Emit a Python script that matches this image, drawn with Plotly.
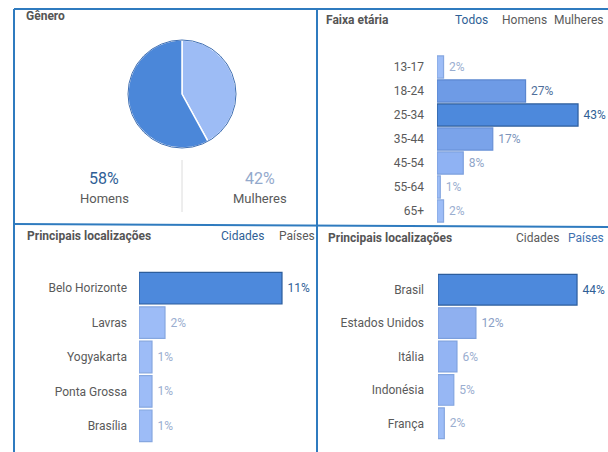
import plotly.graph_objects as go

W, H = 608, 452

# ---- data ----
gender_labels = ["Mulheres", "Homens"]
gender_values = [42, 58]

age_labels = ["13-17", "18-24", "25-34", "35-44", "45-54", "55-64", "65+"]
age_values = [2, 27, 43, 17, 8, 1, 2]

city_labels = ["Belo Horizonte", "Lavras", "Yogyakarta", "Ponta Grossa", "Brasília"]
city_values = [11, 2, 1, 1, 1]

country_labels = ["Brasil", "Estados Unidos", "Itália", "Indonésia", "França"]
country_values = [44, 12, 6, 5, 2]

# ---- styles ----
FONT = "Roboto, Arial, sans-serif"
GRAY = "#5a5a5a"
DARK = "#2f5f96"
BORDER = "#2f7bbf"

age_colors = ["#9dbdf7", "#6e9be6", "#4d89dc", "#7aa3ea", "#8fb2f3", "#9dbdf7", "#9dbdf7"]
age_line = ["#86a7e0", "#5a86cf", "#2c5d9c", "#6790d6", "#7c9fdd", "#86a7e0", "#86a7e0"]
age_text = ["#9aaed0", "#4f6f9c", "#2f5f96", "#7d95bb", "#90a5c8", "#9aaed0", "#9aaed0"]

city_colors = ["#4d89dc", "#9dbcf7", "#9dbcf7", "#9dbcf7", "#9dbcf7"]
city_line = ["#2c5d9c", "#86a7e0", "#86a7e0", "#86a7e0", "#86a7e0"]
city_text = ["#2f5f96", "#9aaed0", "#9aaed0", "#9aaed0", "#9aaed0"]

country_colors = ["#4d89dc", "#8fb0f0", "#93b4f3", "#97b7f4", "#9dbdf7"]
country_line = ["#2c5d9c", "#7c9fdd", "#7fa2df", "#82a5e0", "#86a7e0"]
country_text = ["#2f5f96", "#8aa0c6", "#9aaed0", "#9aaed0", "#9aaed0"]


def px(x):
    return x / W


def py(y):
    return 1 - y / H


fig = go.Figure()

# pie
cx, cy, r = 182, 94, 54
fig.add_trace(go.Pie(
    labels=gender_labels, values=gender_values, sort=False, direction="clockwise",
    rotation=0, textinfo="none", hoverinfo="label+percent", showlegend=False,
    marker=dict(colors=["#9dbcf5", "#4b87d9"], line=dict(color="white", width=1.5)),
    domain=dict(x=[px(cx - r), px(cx + r)], y=[py(cy + r), py(cy - r)]),
))


def bar_trace(labels, values, colors, lines, tcolors, xa, ya):
    return go.Bar(
        y=labels, x=values, orientation="h",
        marker=dict(color=colors, line=dict(color=lines, width=1.2)),
        text=["\u2009" + f"{v}%" for v in values], textposition="outside",
        textfont=dict(color=tcolors, size=12, family=FONT),
        constraintext="none", cliponaxis=False, showlegend=False,
        xaxis=xa, yaxis=ya,
    )


fig.add_trace(bar_trace(age_labels, age_values, age_colors, age_line, age_text, "x", "y"))
fig.add_trace(bar_trace(city_labels, city_values, city_colors, city_line, city_text, "x2", "y2"))
fig.add_trace(bar_trace(country_labels, country_values, country_colors, country_line, country_text, "x3", "y3"))

xcommon = dict(showgrid=False, zeroline=False, showticklabels=False, showline=False, fixedrange=True)
ycommon = dict(showgrid=False, zeroline=False, showline=False, autorange="reversed",
               tickfont=dict(size=12, color=GRAY, family=FONT), ticks="", type="category")

fig.update_layout(
    width=W, height=H, margin=dict(l=0, r=0, t=0, b=0),
    paper_bgcolor="white", plot_bgcolor="white",
    font=dict(family=FONT, color=GRAY),
    bargap=0.08,
    xaxis=dict(domain=[px(437), 1], range=[0, 171 / 3.28], anchor="y", **xcommon),
    yaxis=dict(domain=[py(223), py(55)], anchor="x", ticklabelstandoff=12, **ycommon),
    xaxis2=dict(domain=[px(139), px(317)], range=[0, 178 / 13.0], anchor="y2", **xcommon),
    yaxis2=dict(domain=[py(443), py(271)], anchor="x2", ticklabelstandoff=11, **ycommon),
    xaxis3=dict(domain=[px(438), 1], range=[0, 170 / 3.16], anchor="y3", **xcommon),
    yaxis3=dict(domain=[py(440), py(273)], anchor="x3", ticklabelstandoff=13, **ycommon),
)

# borders
shapes = [
    dict(type="line", xref="paper", yref="paper", x0=px(14), x1=px(14), y0=py(9), y1=py(460),
         line=dict(color=BORDER, width=2)),
    dict(type="line", xref="paper", yref="paper", x0=px(14), x1=px(620), y0=py(9), y1=py(9),
         line=dict(color=BORDER, width=2)),
    dict(type="line", xref="paper", yref="paper", x0=px(317), x1=px(317), y0=py(9), y1=py(460),
         line=dict(color=BORDER, width=2)),
    dict(type="line", xref="paper", yref="paper", x0=px(14), x1=px(620), y0=py(224), y1=py(227),
         line=dict(color=BORDER, width=2)),
    # pie outline
    dict(type="circle", xref="paper", yref="paper", x0=px(cx - r), x1=px(cx + r),
         y0=py(cy + r), y1=py(cy - r), line=dict(color="#3f6fb3", width=1)),
    # divider under pie
    dict(type="line", xref="paper", yref="paper", x0=px(182), x1=px(182), y0=py(160), y1=py(212),
         line=dict(color="#dcdcdc", width=1)),
]
fig.update_layout(shapes=shapes)


def ann(text, x, y, size=12, color=GRAY, bold=False, xanchor="left"):
    t = f"<b>{text}</b>" if bold else text
    return dict(text=t, x=px(x), y=py(y), xref="paper", yref="paper", showarrow=False,
                xanchor=xanchor, yanchor="middle", font=dict(size=size, color=color, family=FONT))


annotations = [
    ann("Gênero", 24, 16, 12, "#555555", True),
    ann("58%", 104, 178, 16, DARK, xanchor="center"),
    ann("Homens", 104, 199, 13, GRAY, xanchor="center"),
    ann("42%", 260, 178, 16, "#93a9cc", xanchor="center"),
    ann("Mulheres", 260, 199, 13, GRAY, xanchor="center"),
    ann("Faixa etária", 324, 20, 12, "#555555", True),
    ann("Todos", 471, 20, 12, DARK, xanchor="center"),
    ann("Homens", 524, 20, 12, GRAY, xanchor="center"),
    ann("Mulheres", 606, 20, 12, GRAY, xanchor="right"),
    ann("Principais localizações", 25, 236, 12, "#555555", True),
    ann("Cidades", 242, 236, 12, DARK, xanchor="center"),
    ann("Países", 297, 236, 12, GRAY, xanchor="center"),
    ann("Principais localizações", 326, 238, 12, "#555555", True),
    ann("Cidades", 537, 238, 12, GRAY, xanchor="center"),
    ann("Países", 606, 238, 12, "#3f72b0", xanchor="right"),
]
fig.update_layout(annotations=annotations)

fig.write_html("out.html")
